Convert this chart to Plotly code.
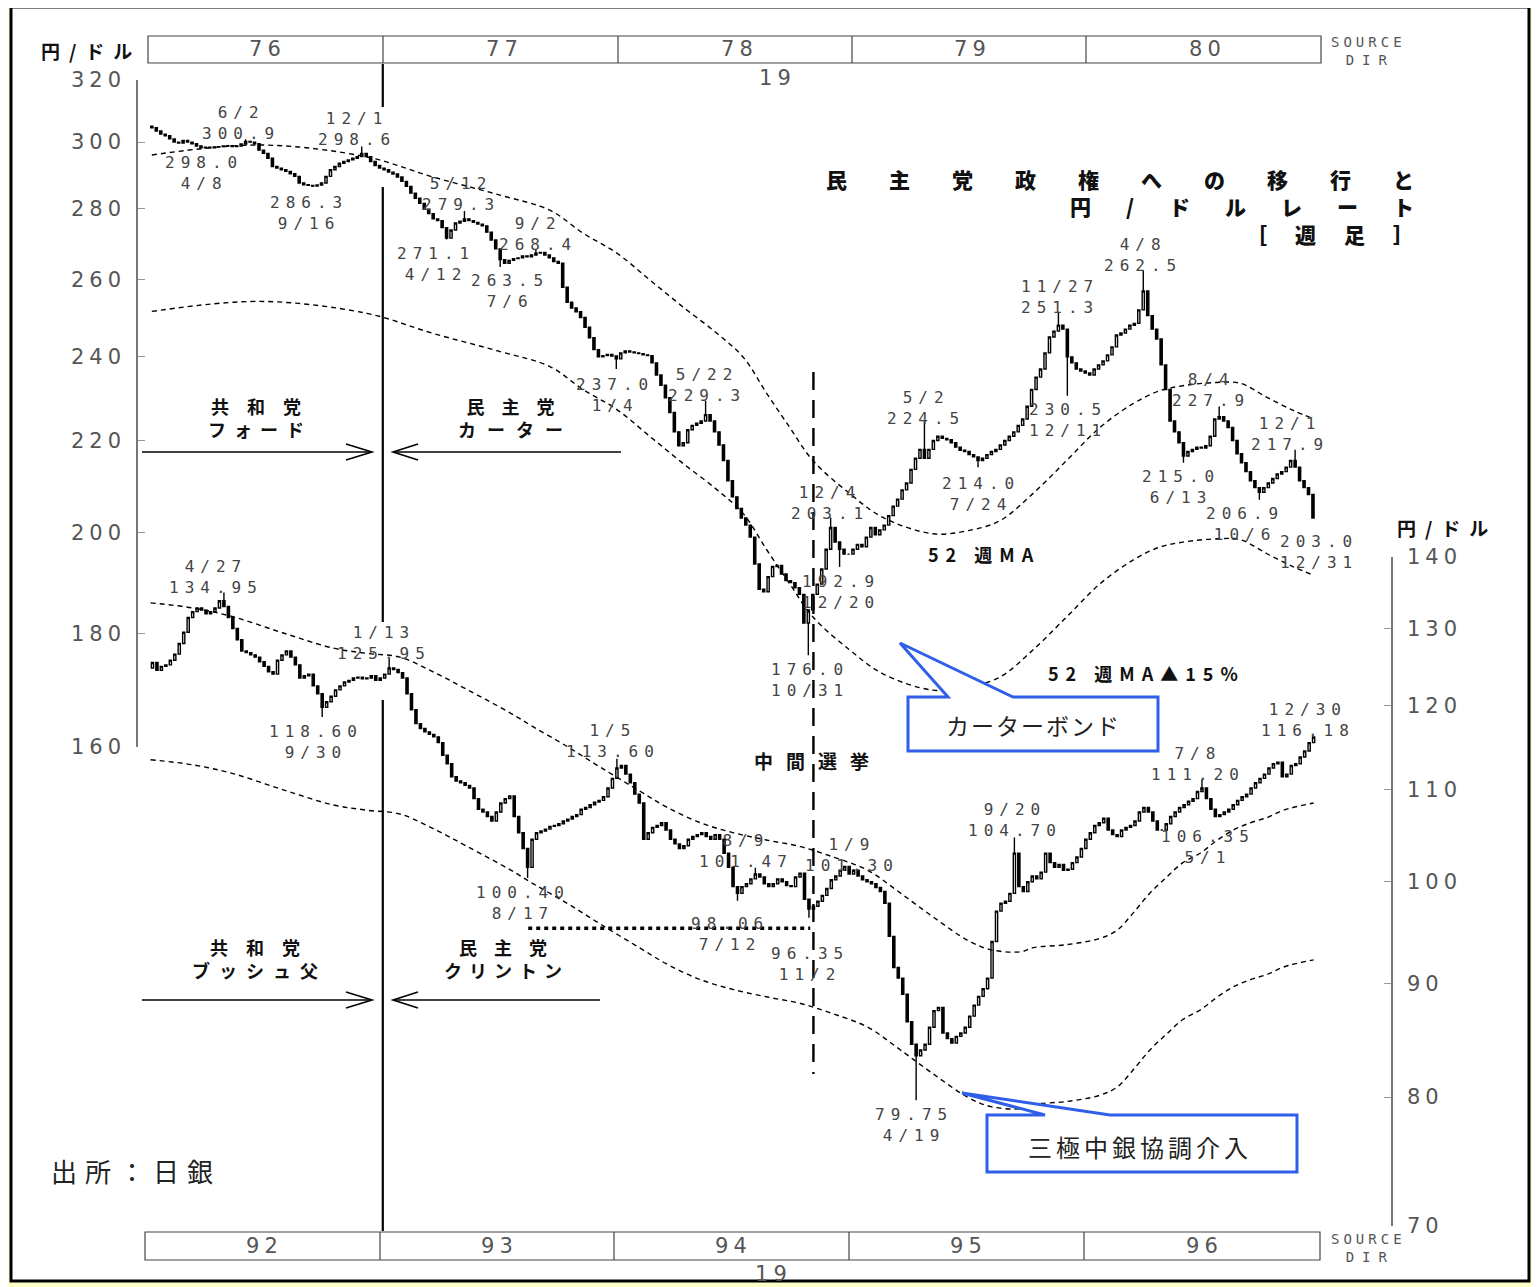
import math
import pandas as pd
import plotly.graph_objects as go

W, H = 1540, 1287
OX, OY = 8, 8          # page body margin of the html page

# ---------------------------------------------------------------
# DATA
# ---------------------------------------------------------------
# weekly closes, yen per dollar, weeks starting Monday 1976-01-05
close_1976 = [304.5, 303.5, 302.5, 302.0,
              301.0, 300.0, 299.7, 300.5,
              300.0, 299.5, 298.8, 298.2, 298.4,
              298.2, 298.5, 298.6, 298.8,
              298.9, 298.6, 298.8, 299.4, 300.2,
              300.0, 299.5, 297.5, 296.5,
              295.0, 292.5, 292.0, 291.5,
              291.0, 290.3, 289.5, 287.5, 287.0,
              286.8, 286.6, 286.9, 287.5,
              289.5, 291.5, 292.5, 293.5,
              294.0, 294.5, 295.0, 295.5, 296.5,
              295.5, 294.0, 292.8, 292.0]
close_1977 = [291.5, 290.8, 290.2, 289.3, 288.0,
              286.5, 284.5, 283.0, 281.5,
              279.8, 278.5, 277.0, 276.5,
              274.5, 271.5, 273.8, 275.8,
              276.3, 277.0, 276.5, 276.0, 275.5,
              275.0, 273.2, 271.0, 268.5,
              265.5, 264.5, 265.3, 265.8,
              266.0, 266.5, 266.3, 266.8, 267.3,
              267.5, 266.8, 266.0, 265.0,
              264.5, 258.0, 254.0, 252.5, 251.5,
              250.0, 247.5, 244.8, 241.8,
              240.0, 240.3, 240.6, 240.2]
close_1978 = [239.5, 241.0, 241.5, 241.2, 241.0,
              240.8, 240.5, 240.3, 238.5,
              235.5, 233.0, 230.0, 226.5,
              222.0, 218.8, 219.5, 222.5,
              223.5, 224.0, 224.5, 226.0, 224.5,
              222.0, 219.0, 215.5, 211.0,
              207.5, 205.0, 203.0, 201.5, 199.0,
              193.5, 188.5, 188.0, 191.0,
              193.0, 193.2, 191.5, 190.2,
              189.8, 188.8, 187.5, 182.0, 184.5,
              187.5, 189.5, 192.5, 196.5,
              201.0, 198.0, 196.5, 195.5]
close_1979 = [195.5, 196.5, 197.5, 197.0, 199.0,
              201.0, 199.5, 200.5, 201.5,
              203.5, 205.5, 207.0, 209.0,
              210.5, 213.5, 216.0, 218.0, 216.0,
              218.0, 220.0, 221.0, 220.5,
              220.2, 219.5, 218.5, 217.8,
              217.5, 216.8, 216.3, 215.5, 216.0,
              216.8, 217.5, 218.0, 219.0,
              220.0, 221.0, 222.0, 223.5,
              225.0, 228.0, 232.0, 235.0, 237.0,
              241.0, 245.0, 246.5, 248.0,
              247.0, 240.0, 238.5, 237.0, 236.5]
close_1980 = [236.0, 235.5, 237.0, 238.0,
              239.0, 240.5, 242.5, 245.5,
              246.0, 247.0, 248.0, 248.5, 252.0,
              257.0, 250.5, 247.0, 244.5,
              238.0, 232.0, 224.5, 222.0,
              219.5, 216.5, 217.5, 218.0, 218.5,
              218.3, 218.8, 221.0, 225.0,
              225.5, 224.5, 223.0, 220.0,
              217.0, 215.0, 213.0, 211.0, 209.5,
              208.5, 209.5, 210.5, 211.5,
              212.5, 213.0, 214.0, 215.5,
              214.0, 211.0, 209.5, 208.0, 203.0]
top_first_open = 305.0

# weekly closes, weeks starting Monday 1992-01-06
close_1992 = [125.5, 124.5, 125.0, 125.2,
              125.8, 126.6, 128.0, 129.5,
              131.5, 132.3, 132.8, 132.5, 132.0,
              132.3, 132.8, 133.8, 133.0,
              131.5, 130.0, 128.5, 127.0,
              126.8, 126.5, 126.2, 125.6, 125.0,
              124.3, 124.0, 125.8, 126.5,
              127.0, 126.2, 125.2, 123.5, 123.8,
              124.0, 122.5, 121.5, 119.8,
              120.5, 121.2, 122.0, 122.5,
              123.0, 123.2, 123.5, 123.6, 123.4,
              123.5, 123.8, 123.2, 123.5]
close_1993 = [124.0, 124.8, 124.6, 124.2,
              123.5, 121.5, 119.5, 117.8,
              117.2, 116.8, 116.5, 116.2, 115.5,
              114.0, 113.0, 111.5, 111.0,
              110.8, 110.5, 110.2, 109.0, 107.8,
              107.5, 107.0, 106.5, 107.5,
              108.5, 109.0, 109.3, 107.0,
              105.2, 103.5, 101.5, 104.5, 105.2,
              105.4, 105.6, 105.9, 106.0,
              106.2, 106.5, 106.7, 107.0,
              107.2, 107.8, 108.0, 108.3, 108.6,
              108.8, 109.2, 110.2, 111.3]
close_1994 = [112.5, 112.8, 111.8, 110.8, 109.5,
              108.5, 104.5, 105.2, 105.8,
              106.0, 106.3, 105.5, 104.5,
              104.0, 103.5, 103.8, 104.5,
              104.8, 105.0, 105.2, 104.8, 104.5,
              105.0, 104.5, 103.0, 101.5,
              99.5, 98.8, 99.5, 99.8,
              100.3, 100.8, 100.5, 99.8, 99.5,
              99.8, 100.3, 100.0, 99.6,
              99.5, 100.5, 100.9, 98.2, 97.2,
              97.5, 98.0, 98.6, 99.3,
              100.2, 100.6, 101.2, 101.6]
close_1995 = [100.8, 101.2, 100.6, 100.2, 100.0,
              99.8, 99.4, 99.0, 97.8,
              94.5, 91.5, 90.5, 89.0,
              86.5, 84.5, 83.5, 84.0,
              84.5, 86.0, 87.5, 87.8, 85.5,
              85.0, 84.6, 85.2, 85.5,
              86.0, 87.0, 88.0, 88.8, 89.5,
              90.5, 94.0, 97.0, 97.8,
              98.0, 98.8, 103.0, 99.5,
              99.0, 100.0, 100.6, 100.3, 101.0,
              103.0, 102.0, 101.5, 101.8,
              101.2, 101.3, 102.0, 102.6]
close_1996 = [103.5, 104.5, 105.2, 106.0, 106.3,
              106.8, 105.5, 105.0, 104.8,
              105.5, 105.8, 106.0, 106.5,
              107.5, 108.0, 107.5, 106.5, 105.5,
              105.5, 106.2, 107.0, 107.5,
              108.0, 108.3, 108.7, 109.0,
              109.8, 110.2, 109.0, 107.8, 107.0,
              107.2, 107.5, 107.8, 108.3,
              108.8, 109.2, 109.5, 110.2, 110.8,
              111.3, 111.8, 112.5, 113.0,
              113.2, 111.5, 111.8, 112.8,
              113.0, 113.8, 114.5, 115.5, 116.0]
bottom_first_open = 124.8

# labelled highs / lows (date, value, kind)
top_marks = [("1976-04-08", 298.0, "low"), ("1976-06-02", 300.9, "high"),
             ("1976-09-16", 286.3, "low"), ("1976-12-01", 298.6, "high"),
             ("1977-04-12", 271.1, "low"), ("1977-05-12", 279.3, "high"),
             ("1977-07-06", 263.5, "low"), ("1977-09-02", 268.4, "high"),
             ("1978-01-04", 237.0, "low"), ("1978-05-22", 229.3, "high"),
             ("1978-10-31", 176.0, "low"), ("1978-12-04", 203.1, "high"),
             ("1978-12-20", 192.9, "low"), ("1979-05-02", 224.5, "high"),
             ("1979-07-24", 214.0, "low"), ("1979-11-27", 251.3, "high"),
             ("1979-12-11", 230.5, "low"), ("1980-04-08", 262.5, "high"),
             ("1980-06-13", 215.0, "low"), ("1980-08-04", 227.9, "high"),
             ("1980-10-06", 206.9, "low"), ("1980-12-01", 217.9, "high"),
             ("1980-12-31", 203.0, "close")]
bottom_marks = [("1992-04-27", 134.95, "high"), ("1992-09-30", 118.60, "low"),
                ("1993-01-13", 125.95, "high"), ("1993-08-17", 100.40, "low"),
                ("1994-01-05", 113.60, "high"), ("1994-07-12", 98.06, "low"),
                ("1994-08-09", 101.47, "high"), ("1994-11-02", 96.35, "low"),
                ("1995-01-09", 101.30, "high"), ("1995-04-19", 79.75, "low"),
                ("1995-09-20", 104.70, "high"), ("1996-05-01", 106.35, "low"),
                ("1996-07-08", 111.20, "high"), ("1996-12-30", 116.18, "close")]

# 52-week moving averages
top_ma_dates = ["1976-01-05", "1976-06-22", "1976-12-07", "1977-03-21", "1977-07-04",
                "1977-09-20", "1977-11-11", "1978-01-03", "1978-02-24", "1978-04-17",
                "1978-06-09", "1978-07-20", "1978-08-26", "1978-10-01", "1978-11-06",
                "1979-01-03", "1979-02-24", "1979-05-13", "1979-07-06", "1979-08-26",
                "1979-10-17", "1979-12-09", "1980-01-30", "1980-03-22", "1980-05-03",
                "1980-06-08", "1980-07-31", "1980-09-06", "1980-10-18", "1980-11-28",
                "1980-12-29"]
top_ma_values = [296.0, 299.1, 295.4, 289.3, 283.9, 279.5, 272.9, 267.3, 259.9, 252.7,
                 245.9, 239.9, 231.0, 223.0, 215.5, 208.2, 203.1, 199.7, 200.3, 202.4,
                 208.2, 215.5, 223.0, 228.6, 231.7, 232.9, 233.7, 233.5, 230.1, 227.0,
                 225.1]
bottom_ma_dates = ["1992-01-03", "1992-03-09", "1992-05-11", "1992-07-29", "1992-10-15",
                   "1992-12-07", "1993-01-28", "1993-03-21", "1993-05-14", "1993-07-20",
                   "1993-08-25", "1993-10-18", "1993-12-08", "1994-02-09", "1994-03-23",
                   "1994-05-14", "1994-07-05", "1994-08-27", "1994-10-18", "1994-12-08",
                   "1995-01-31", "1995-03-24", "1995-05-14", "1995-07-07", "1995-08-12",
                   "1995-09-28", "1995-10-18", "1995-12-10", "1996-01-30", "1996-02-26",
                   "1996-03-22", "1996-04-17", "1996-05-14", "1996-06-08", "1996-07-05",
                   "1996-08-01", "1996-08-26", "1996-09-22", "1996-10-19", "1996-11-13",
                   "1996-12-30"]
bottom_ma_values = [133.5, 132.8, 131.6, 129.4, 127.4, 126.7, 126.2, 124.3, 122.0, 119.1,
                    117.4, 115.0, 112.6, 109.8, 108.0, 106.3, 105.2, 104.4, 103.7, 102.6,
                    101.2, 98.8, 96.4, 94.1, 93.2, 93.0, 93.4, 93.7, 94.3, 95.1,
                    96.8, 98.8, 100.5, 102.0, 103.0, 104.4, 105.5, 106.3, 106.9, 107.7,
                    108.5]
ma_band_factor = 0.85          # 52週MA▲15%

# horizontal dotted reference (1993-94)
dotted_level = 95.3
dotted_span = ["1993-08-17", "1994-11-02"]

top_years = ["76", "77", "78", "79", "80"]
bottom_years = ["92", "93", "94", "95", "96"]
left_ticks = [160, 180, 200, 220, 240, 260, 280, 300, 320]
right_ticks = [70, 80, 90, 100, 110, 120, 130, 140]

inauguration_1977 = "1977-01-01"
midterm_1978 = "1978-11-07"

# ---------------------------------------------------------------
# helpers
# ---------------------------------------------------------------
MONO = "DejaVu Sans Mono"
SANS = "DejaVu Sans"
JP = "Noto Sans CJK JP"


def fx(x):
    return (x - OX) / W


def fy(y):
    return 1 - (y - OY) / H


def spaced(text, ls):
    """letter-spacing on every character except the last (no trailing gap)"""
    if not ls or len(text) < 2:
        return text
    return f'<span style="letter-spacing:{ls}px">{text[:-1]}</span>{text[-1]}'


annotations = []
shapes = []


def add_text(lines, cx, cy, size, family=MONO, color="#444", ls=0, weight="normal",
             xanchor="center"):
    if isinstance(lines, str):
        lines = [lines]
    if not isinstance(ls, (list, tuple)):
        ls = [ls] * len(lines)
    text = "<br>".join(spaced(t, s) for t, s in zip(lines, ls))
    annotations.append(dict(text=text, x=fx(cx), y=fy(cy), xref="paper", yref="paper",
                            xanchor=xanchor, yanchor="middle", align=xanchor
                            if xanchor != "center" else "center",
                            showarrow=False,
                            font=dict(family=family, size=size, color=color,
                                      weight=weight)))


def px_line(x0, y0, x1, y1, color="black", width=1.5, dash="solid"):
    shapes.append(dict(type="line", xref="paper", yref="paper", x0=fx(x0), y0=fy(y0),
                       x1=fx(x1), y1=fy(y1), line=dict(color=color, width=width,
                                                       dash=dash)))


def px_path(points, color="black", width=1.5, fill=None, close=False):
    d = "M " + " L ".join(f"{fx(x):.5f},{fy(y):.5f}" for x, y in points)
    if close:
        d += " Z"
    s = dict(type="path", xref="paper", yref="paper", path=d,
             line=dict(color=color, width=width))
    if fill:
        s["fillcolor"] = fill
    shapes.append(s)


def px_rect(x0, y0, x1, y1, color="black", width=1.2, fill=None, layer="above"):
    s = dict(type="rect", xref="paper", yref="paper", x0=fx(x0), x1=fx(x1),
             y0=fy(y1), y1=fy(y0), line=dict(color=color, width=width), layer=layer)
    if fill:
        s["fillcolor"] = fill
    shapes.append(s)


def build_candles(start, closes, first_open, marks):
    dates = pd.date_range(start, periods=len(closes), freq="W-MON")
    closes = list(closes)
    opens = [first_open] + closes[:-1]
    highs = [max(o, c) for o, c in zip(opens, closes)]
    lows = [min(o, c) for o, c in zip(opens, closes)]
    for d, v, kind in marks:
        i = (pd.Timestamp(d) - dates[0]).days // 7
        i = min(max(i, 0), len(closes) - 1)
        if kind == "high":
            highs[i] = max(highs[i], v)
        elif kind == "low":
            lows[i] = min(lows[i], v)
        else:
            closes[i] = v
            highs[i] = max(opens[i], v)
            lows[i] = min(opens[i], v)
    return dates, opens, highs, lows, closes


top_closes = close_1976 + close_1977 + close_1978 + close_1979 + close_1980
bottom_closes = close_1992 + close_1993 + close_1994 + close_1995 + close_1996
t_d, t_o, t_h, t_l, t_c = build_candles("1976-01-05", top_closes, top_first_open, top_marks)
b_d, b_o, b_h, b_l, b_c = build_candles("1992-01-06", bottom_closes, bottom_first_open,
                                        bottom_marks)

candle_style = dict(increasing=dict(line=dict(color="black", width=1.4), fillcolor="white"),
                    decreasing=dict(line=dict(color="black", width=1.4), fillcolor="black"),
                    whiskerwidth=0, hoverinfo="skip", showlegend=False)

ma_line = dict(color="black", width=1.4, dash="5px,4px", shape="spline")

fig = go.Figure()
fig.add_trace(go.Candlestick(x=t_d, open=t_o, high=t_h, low=t_l, close=t_c,
                             xaxis="x", yaxis="y", **candle_style))
fig.add_trace(go.Candlestick(x=b_d, open=b_o, high=b_h, low=b_l, close=b_c,
                             xaxis="x2", yaxis="y2", **candle_style))
fig.add_trace(go.Scatter(x=top_ma_dates, y=top_ma_values, mode="lines", line=ma_line,
                         xaxis="x", yaxis="y", hoverinfo="skip"))
fig.add_trace(go.Scatter(x=top_ma_dates, y=[v * ma_band_factor for v in top_ma_values],
                         mode="lines", line=ma_line, xaxis="x", yaxis="y",
                         hoverinfo="skip"))
fig.add_trace(go.Scatter(x=bottom_ma_dates, y=bottom_ma_values, mode="lines",
                         line=ma_line, xaxis="x2", yaxis="y2", hoverinfo="skip"))
fig.add_trace(go.Scatter(x=bottom_ma_dates,
                         y=[v * ma_band_factor for v in bottom_ma_values],
                         mode="lines", line=ma_line, xaxis="x2", yaxis="y2",
                         hoverinfo="skip"))
fig.add_trace(go.Scatter(x=dotted_span, y=[dotted_level, dotted_level], mode="lines",
                         line=dict(color="black", width=3.5, dash="4px,4px"),
                         xaxis="x2", yaxis="y2", hoverinfo="skip"))

# ---------------------------------------------------------------
# frame, year boxes, event lines
# ---------------------------------------------------------------
px_rect(11, 7, 1529, 1281, color="black", width=3, fill="white", layer="below")

px_rect(148, 36, 1321, 63, color="#444", width=1.2)
for xd in [383, 618, 852, 1086]:
    px_line(xd, 36, xd, 63, color="#444", width=1.2)
for lab, cx in zip(top_years, [265, 502, 737, 970, 1205]):
    add_text(lab, cx, 49, 21, family=SANS, color="#555", ls=5)
add_text("19", 775, 78, 21, family=SANS, color="#555", ls=5)

px_rect(145, 1232, 1320, 1260, color="#444", width=1.2)
for xd in [380, 614, 849, 1084]:
    px_line(xd, 1232, xd, 1260, color="#444", width=1.2)
for lab, cx in zip(bottom_years, [262, 497, 731, 966, 1202]):
    add_text(lab, cx, 1246, 21, family=SANS, color="#555", ls=5)
add_text("19", 771, 1274, 21, family=SANS, color="#555", ls=5)

for cy in (51, 1248):
    add_text(["SOURCE", "DIR"], 1366, cy, 14, family=MONO, color="#555", ls=[4, 8])

# inauguration line (solid), drawn in segments around the price labels
for y0, y1 in [(64, 107), (187, 622), (700, 1231)]:
    shapes.append(dict(type="line", xref="x", yref="paper", x0=inauguration_1977,
                       x1=inauguration_1977, y0=fy(y0), y1=fy(y1),
                       line=dict(color="black", width=2.2)))
# mid-term election (dashed)
shapes.append(dict(type="line", xref="x", yref="paper", x0=midterm_1978, x1=midterm_1978,
                   y0=fy(372), y1=fy(1074), line=dict(color="black", width=2.4,
                                                      dash="18px,10px")))

# arrows
for y in (452, 1000):
    px_line(142, y, 371, y, width=1.6)
    px_path([(346, y - 8), (372, y), (346, y + 8)], width=1.6)
    px_line(393, y, 621 if y == 452 else 600, y, width=1.6)
    px_path([(418, y - 8), (393, y), (418, y + 8)], width=1.6)

# callouts
BLUE = "#2F5FE8"
px_path([(908, 697), (948, 697), (900, 643), (1013, 697), (1158, 697), (1158, 751),
         (908, 751)], color=BLUE, width=3, fill="white", close=True)
px_path([(987, 1115), (1045, 1115), (962, 1093), (1110, 1115), (1297, 1115),
         (1297, 1172), (987, 1172)], color=BLUE, width=3, fill="white", close=True)

# ---------------------------------------------------------------
# texts
# ---------------------------------------------------------------
add_text("円/ドル", 86, 51, 19, family=JP, color="#111", ls=9, weight="bold")
add_text("円/ドル", 1442, 528, 19, family=JP, color="#111", ls=9, weight="bold")

add_text(["民主党政権への移行と", "円/ドルレート", "［週足］"], 1416, 206, 21,
         family=JP, color="#111", ls=[42, 35, 28], weight=900, xanchor="right")

add_text(["共和党", "フォード"], 256, 417, 18, family=JP, color="#111", ls=[18, 8],
         weight="bold")
add_text(["民主党", "カーター"], 510, 417, 18, family=JP, color="#111", ls=[17, 11],
         weight="bold")
add_text(["共和党", "ブッシュ父"], 255, 958, 18, family=JP, color="#111", ls=[18, 9],
         weight="bold")
add_text(["民主党", "クリントン"], 503, 958, 18, family=JP, color="#111", ls=[17, 7],
         weight="bold")

add_text("52 週MA", 981, 554, 18, family=JP, color="#111", ls=7, weight="bold")
add_text("52 週MA▲15%", 1143, 673, 18, family=JP, color="#111", ls=7, weight="bold")
add_text("中間選挙", 812, 761, 19, family=JP, color="#111", ls=13, weight="bold")

add_text("カーターボンド", 1032, 725, 23, family=JP, color="#222", ls=2)
add_text("三極中銀協調介入", 1138, 1146, 24, family=JP, color="#222", ls=4)
add_text("出所：日銀", 132, 1170, 26, family=JP, color="#222", ls=8)

# price labels: (date line centre, value line centre) in pixels
top_mark_pos = [((210, 180), (201, 165)), ((247, 115), (238, 131)),
                ((313, 219), (306, 206)), ((345, 122), (354, 137)),
                ((449, 270), (433, 257)), ((468, 187), (458, 202)),
                ((505, 298), (507, 284)), ((541, 227), (535, 242)),
                ((621, 402), (612, 388)), ((710, 377), (704, 393)),
                ((807, 687), (807, 672)), ((832, 495), (827, 510)),
                ((843, 600), (838, 584)), ((933, 402), (923, 414)),
                ((988, 500), (978, 487)), ((1057, 290), (1057, 304)),
                ((1067, 428), (1065, 413)), ((1148, 249), (1140, 261)),
                ((1186, 495), (1178, 480)), ((1218, 383), (1208, 397)),
                ((1255, 531), (1242, 517)), ((1305, 559), (1316, 544))]
top_mark_pos.insert(21, ((1288, 427), (1287, 441)))
bottom_mark_pos = [((222, 570), (213, 584)), ((321, 749), (313, 734)),
                   ((390, 635), (381, 650)), ((528, 910), (520, 895)),
                   ((622, 733), (610, 749)), ((740, 941), (727, 927)),
                   ((762, 843), (743, 859)), ((805, 970), (807, 957)),
                   ((858, 847), (849, 862)), ((919, 1132), (911, 1117)),
                   ((1020, 813), (1012, 826)), ((1217, 854), (1205, 839)),
                   ((1205, 756), (1195, 771)), ((1305, 712), (1305, 728))]


def add_mark_labels(marks, positions, fmt):
    for (d, v, kind), (dpos, vpos) in zip(marks, positions):
        ts = pd.Timestamp(d)
        dtxt, vtxt = f"{ts.month}/{ts.day}", fmt.format(v)
        lines = [dtxt, vtxt] if dpos[1] < vpos[1] else [vtxt, dtxt]
        add_text(lines, vpos[0], (dpos[1] + vpos[1]) / 2, 16, ls=6, color="#444")


add_mark_labels(top_marks, top_mark_pos, "{:.1f}")
add_mark_labels(bottom_marks, bottom_mark_pos, "{:.2f}")

# ---------------------------------------------------------------
# layout
# ---------------------------------------------------------------
tickfont = dict(family=SANS, size=21, color="#555")
common_y = dict(type="log", anchor="free", showline=True, linecolor="#777", linewidth=1.5,
                ticks="inside", ticklen=7, tickwidth=1.2, tickcolor="#999",
                tickfont=tickfont, showgrid=False, zeroline=False, automargin=False,
                fixedrange=True)
fig.update_layout(
    width=W, height=H,
    margin=dict(l=0, r=0, t=0, b=0, pad=0, autoexpand=False),
    paper_bgcolor="#FFFFC8", plot_bgcolor="rgba(0,0,0,0)",
    showlegend=False, hovermode=False,
    xaxis=dict(domain=[fx(148), fx(1321)], type="date",
               range=["1975-12-30", "1981-01-10 14:00"], anchor="y", visible=False,
               rangeslider=dict(visible=False), fixedrange=True, automargin=False),
    xaxis2=dict(domain=[fx(148), fx(1321)], type="date",
                range=["1991-12-30", "1997-01-10 14:00"], anchor="y2", visible=False,
                rangeslider=dict(visible=False), fixedrange=True, automargin=False),
    yaxis=dict(domain=[fy(747), fy(80)], range=[math.log10(160), math.log10(320)],
               position=fx(137), side="left", tickvals=left_ticks,
               ticktext=[spaced(str(t), 5) for t in left_ticks], ticklabelstandoff=11,
               **common_y),
    yaxis2=dict(domain=[fy(1226), fy(557)], range=[math.log10(70), math.log10(140)],
                position=fx(1392), side="right", tickvals=right_ticks,
                ticktext=[spaced(str(t), 5) for t in right_ticks], ticklabelstandoff=10,
                **common_y),
    shapes=shapes, annotations=annotations,
)

fig.write_html("out.html")
